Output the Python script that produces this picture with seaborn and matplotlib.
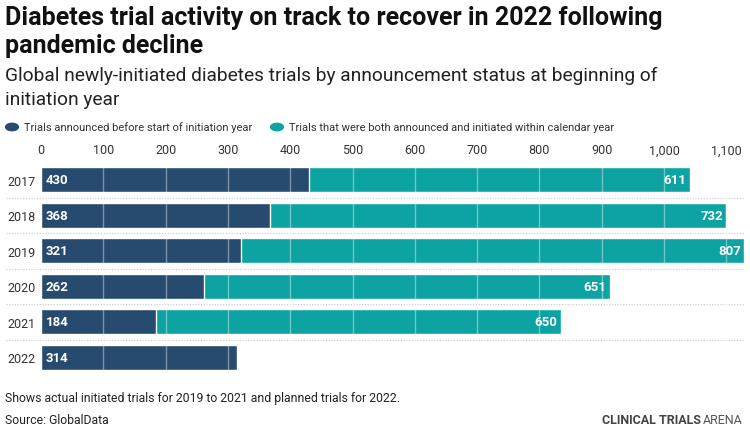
import matplotlib
matplotlib.use("Agg")
import matplotlib.pyplot as plt
import seaborn as sns
import pandas as pd
from matplotlib.ticker import FuncFormatter

years = ["2017", "2018", "2019", "2020", "2021", "2022"]
announced_before = [430, 368, 321, 262, 184, 314]
announced_within = [611, 732, 807, 651, 650, 0]

DARK = "#274b6e"
TEAL = "#0da3a3"

sns.set_theme(style="white")
plt.rcParams["font.family"] = ["Roboto", "DejaVu Sans"]

df = pd.DataFrame({
    "year": years,
    "before": announced_before,
    "within": announced_within,
})
df["total"] = df["before"] + df["within"]

fig = plt.figure(figsize=(7.5, 4.35), dpi=100)
ax = fig.add_axes([41/750, 1 - 376/435, 704/750, (376 - 163)/435])

sns.barplot(data=df, y="year", x="total", color=TEAL, orient="h", width=0.7,
            saturation=1, ax=ax, zorder=2)
sns.barplot(data=df, y="year", x="before", color=DARK, orient="h", width=0.7,
            saturation=1, ax=ax, zorder=3)

ax.set_xlim(0, 1130)
ax.set_ylim(5.5, -0.5)
ax.set_xlabel("")
ax.set_ylabel("")
ax.xaxis.tick_top()
ax.set_xticks(range(0, 1101, 100))
ax.xaxis.set_major_formatter(FuncFormatter(lambda v, p: f"{int(v):,}"))
ax.tick_params(axis="x", length=0, pad=4, labelsize=9, labelcolor="#333333")
ax.tick_params(axis="y", length=0, pad=4, labelsize=9, labelcolor="#333333")
for s in ax.spines.values():
    s.set_visible(False)

# vertical gridlines drawn over the bars
for v in range(100, 1101, 100):
    ax.axvline(v, color="white", alpha=0.4, lw=1, zorder=4)

# dotted row separators
for i in range(len(years) - 1):
    ax.axhline(i + 0.5, xmin=-0.05, xmax=1.0, color="#c8c8c8", lw=0.8,
               ls=(0, (1, 1.5)), clip_on=False, zorder=1)

for i, row in df.iterrows():
    ax.text(8, i, f"{row['before']}", color="white", fontsize=9.5,
            fontweight="bold", va="center", ha="left", zorder=5)
    if row["within"] > 0:
        ax.text(row["total"] - 5, i, f"{row['within']}", color="white",
                fontsize=9.5, fontweight="bold", va="center", ha="right",
                zorder=5)

# Titles
fig.text(5/750, 1 - 18/435, "Diabetes trial activity on track to recover in 2022 following",
         fontsize=18, fontweight="bold", color="#111111", va="center")
fig.text(5/750, 1 - 46/435, "pandemic decline",
         fontsize=18, fontweight="bold", color="#111111", va="center")
fig.text(5/750, 1 - 76/435, "Global newly-initiated diabetes trials by announcement status at beginning of",
         fontsize=13.8, color="#222222", va="center")
fig.text(5/750, 1 - 100/435, "initiation year",
         fontsize=13.8, color="#222222", va="center")

# Legend
fig.patches.append(matplotlib.patches.Circle((12/750, 1 - 128/435), 0.0085,
                   transform=fig.transFigure, color=DARK, figure=fig))
fig.text(24/750, 1 - 128/435, "Trials announced before start of initiation year",
         fontsize=8, color="#333333", va="center")
fig.patches.append(matplotlib.patches.Circle((277/750, 1 - 128/435), 0.0085,
                   transform=fig.transFigure, color=TEAL, figure=fig))
fig.text(289/750, 1 - 128/435, "Trials that were both announced and initiated within calendar year",
         fontsize=8, color="#333333", va="center")

# Footer
fig.text(5/750, 1 - 399/435, "Shows actual initiated trials for 2019 to 2021 and planned trials for 2022.",
         fontsize=8.8, color="#222222", va="center")
fig.text(5/750, 1 - 421/435, "Source: GlobalData",
         fontsize=8.8, color="#222222", va="center")
t1 = fig.text(602/750, 1 - 421/435, "CLINICAL TRIALS", fontsize=9,
              fontweight="bold", color="#444444", va="center")
fig.canvas.draw()
bb = t1.get_window_extent()
fig.text(bb.x1 / 750 + 2/750, 1 - 421/435, "ARENA", fontsize=9,
         color="#555555", va="center")

fig.savefig("out.png", dpi=100)
